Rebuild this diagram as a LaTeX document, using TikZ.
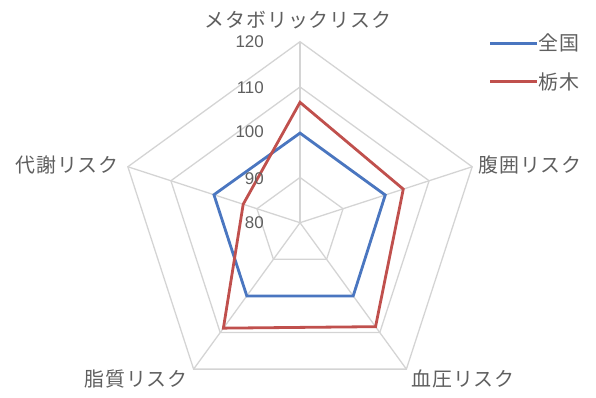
\documentclass[tikz,border=0pt]{standalone}
\usepackage{fontspec}
\usetikzlibrary{calc}
\newfontfamily\jp[LetterSpace=5]{Noto Sans CJK JP}
\newfontfamily\num{Liberation Sans}
\definecolor{gridc}{RGB}{212,212,212}
\definecolor{txt}{RGB}{95,95,95}
\definecolor{blueS}{RGB}{74,118,192}
\definecolor{redS}{RGB}{192,80,77}
\begin{document}
\begin{tikzpicture}[x=1bp,y=1bp,
  grid/.style={draw=gridc,line width=1.3bp},
  series/.style={line width=2.8bp,line join=miter},
  axlab/.style={font=\jp\fontsize{20}{21}\selectfont,text=txt,inner sep=0pt},
  numlab/.style={font=\num\fontsize{17}{18}\selectfont,text=txt,inner sep=0pt,anchor=east},
  leglab/.style={font=\jp\fontsize{20}{21}\selectfont,text=txt,inner sep=0pt,anchor=west}]
\useasboundingbox (0,0) rectangle (596,397);
\coordinate (C) at (300,174.3);
\def\u{4.525}
% grid rings
\foreach \v in {90,100,110,120}{
  \draw[grid] ($(C)+(90:{(\v-80)*\u})$) -- ($(C)+(18:{(\v-80)*\u})$) -- ($(C)+(-54:{(\v-80)*\u})$) -- ($(C)+(-126:{(\v-80)*\u})$) -- ($(C)+(162:{(\v-80)*\u})$) -- cycle;
}
% spokes
\foreach \a/\n in {90/o1,18/o2,-54/o3,-126/o4,162/o5}{
  \coordinate (\n) at ($(C)+(\a:181)$);
  \draw[grid] (C) -- (\n);
}
% blue data (national)
\coordinate (b1) at ($(C)+(90:{(99.8-80)*\u})$);
\coordinate (b2) at ($(C)+(18:{(99.8-80)*\u})$);
\coordinate (b3) at ($(C)+(-54:{(100-80)*\u})$);
\coordinate (b4) at ($(C)+(-126:{(100-80)*\u})$);
\coordinate (b5) at ($(C)+(162:{(100-80)*\u})$);
\draw[series,draw=blueS] (b1) -- (b2) -- (b3) -- (b4) -- (b5) -- cycle;
% red data (Tochigi)
\coordinate (r1) at ($(C)+(90:{(106.6-80)*\u})$);
\coordinate (r2) at ($(C)+(18:{(104-80)*\u})$);
\coordinate (r3) at ($(C)+(-54:{(108.4-80)*\u})$);
\coordinate (r4) at ($(C)+(-126:{(108.8-80)*\u})$);
\coordinate (r5) at ($(C)+(162:{(93.2-80)*\u})$);
\draw[series,draw=redS] (r1) -- (r2) -- (r3) -- (r4) -- (r5) -- cycle;
% scale labels
\node[numlab] (n120) at (264,355) {120};
\node[numlab] (n110) at (264,309) {110};
\node[numlab] (n100) at (264,265) {100};
\node[numlab] (n90) at (264,218) {90};
\node[numlab] (n80) at (264,174) {80};
% axis labels
\node[axlab] (l1) at (298,377) {メタボリックリスク};
\node[axlab,anchor=west] (l2) at (478,232) {腹囲リスク};
\node[axlab,anchor=north] (l3) at (463,27) {血圧リスク};
\node[axlab,anchor=north] (l4) at (136,27) {脂質リスク};
\node[axlab,anchor=east] (l5) at (119,232) {代謝リスク};
% legend
\coordinate (lb1) at (490,353.7);
\coordinate (lb2) at (537,353.7);
\draw[series,draw=blueS] (lb1) -- (lb2);
\node[leglab] (lgb) at (538,353.7) {全国};
\coordinate (lr1) at (490,315.3);
\coordinate (lr2) at (537,315.3);
\draw[series,draw=redS] (lr1) -- (lr2);
\node[leglab] (lgr) at (538,315.3) {栃木};
\end{tikzpicture}
\end{document}
